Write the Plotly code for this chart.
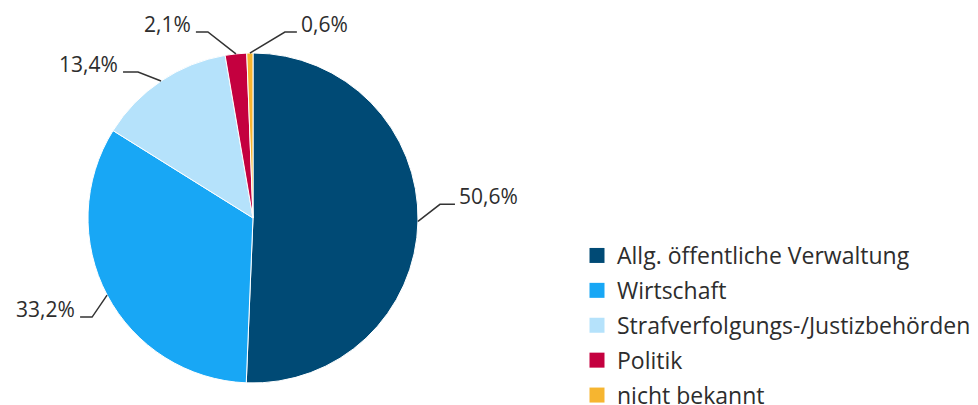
import math
import plotly.graph_objects as go

categories = ["Allg. öffentliche Verwaltung", "Wirtschaft", "Strafverfolgungs-/Justizbehörden", "Politik", "nicht bekannt"]
values = [50.6, 33.2, 13.4, 2.1, 0.6]
colors = ["#004A75", "#18A7F5", "#B5E2FB", "#C4003F", "#F6B530"]

W, H = 978, 405
CX, CY, R = 253, 218, 165  # pie centre / radius in px

# leader-line layout per label: elbow offset from slice edge, horizontal run, text side
label_layout = [
    dict(elbow=(22, -17), run=15, side="right"),
    dict(elbow=(-15, 22), run=-12, side="left"),
    dict(elbow=(-23, -9), run=-15, side="left"),
    dict(elbow=(-28, -22), run=-12, side="left"),
    dict(elbow=(35, -21), run=12, side="right"),
]

FONT = "Open Sans"
TEXT_COLOR = "#2d2d2d"

fig = go.Figure()
fig.add_trace(go.Pie(
    labels=categories,
    values=values,
    marker=dict(colors=colors, line=dict(color="white", width=1)),
    sort=False,
    direction="clockwise",
    rotation=0,
    textinfo="none",
    hoverinfo="label+percent",
    showlegend=False,
    domain=dict(x=[(CX - R) / W, (CX + R) / W], y=[1 - (CY + R) / H, 1 - (CY - R) / H]),
))

# legend entries (square swatches)
for cat, col in zip(categories, colors):
    fig.add_trace(go.Scatter(
        x=[None], y=[None], mode="markers", name=cat, legendgroup=cat,
        marker=dict(symbol="square", size=15, color=col),
        showlegend=True, hoverinfo="skip",
    ))

def px2paper(x, y):
    return x / W, 1 - y / H

total = sum(values)
cum = 0.0
shapes = []
annotations = []
for v, lay in zip(values, label_layout):
    mid = (cum + v / 2) / total * 2 * math.pi
    cum += v
    ex = CX + R * math.sin(mid)
    ey = CY - R * math.cos(mid)
    bx = ex + lay["elbow"][0]
    by = ey + lay["elbow"][1]
    hx = bx + lay["run"]
    p0 = px2paper(ex, ey)
    p1 = px2paper(bx, by)
    p2 = px2paper(hx, by)
    shapes.append(dict(
        type="path", xref="paper", yref="paper",
        path=f"M {p0[0]},{p0[1]} L {p1[0]},{p1[1]} L {p2[0]},{p2[1]}",
        line=dict(color="#333333", width=1.5),
    ))
    txt = f"{v:.1f}".replace(".", ",") + "%"
    if lay["side"] == "right":
        tx, xanchor = hx + 2, "left"
    else:
        tx, xanchor = hx - 3, "right"
    ax, ay = px2paper(tx, by - 8)
    annotations.append(dict(
        x=ax, y=ay, xref="paper", yref="paper", text=txt, showarrow=False,
        xanchor=xanchor, yanchor="middle",
        font=dict(family=FONT, size=21, color=TEXT_COLOR),
    ))

fig.update_layout(
    width=W, height=H,
    margin=dict(l=0, r=0, t=0, b=0, autoexpand=False),
    paper_bgcolor="white",
    plot_bgcolor="white",
    xaxis=dict(visible=False),
    yaxis=dict(visible=False),
    shapes=shapes,
    annotations=annotations,
    showlegend=True,
    legend=dict(
        x=577 / W, y=1 - 234 / H, xanchor="left", yanchor="top",
        font=dict(family=FONT, size=23, color=TEXT_COLOR),
        traceorder="grouped",
        tracegroupgap=2,
        itemwidth=30,
        bgcolor="rgba(0,0,0,0)",
    ),
)

fig.write_html("out.html")
